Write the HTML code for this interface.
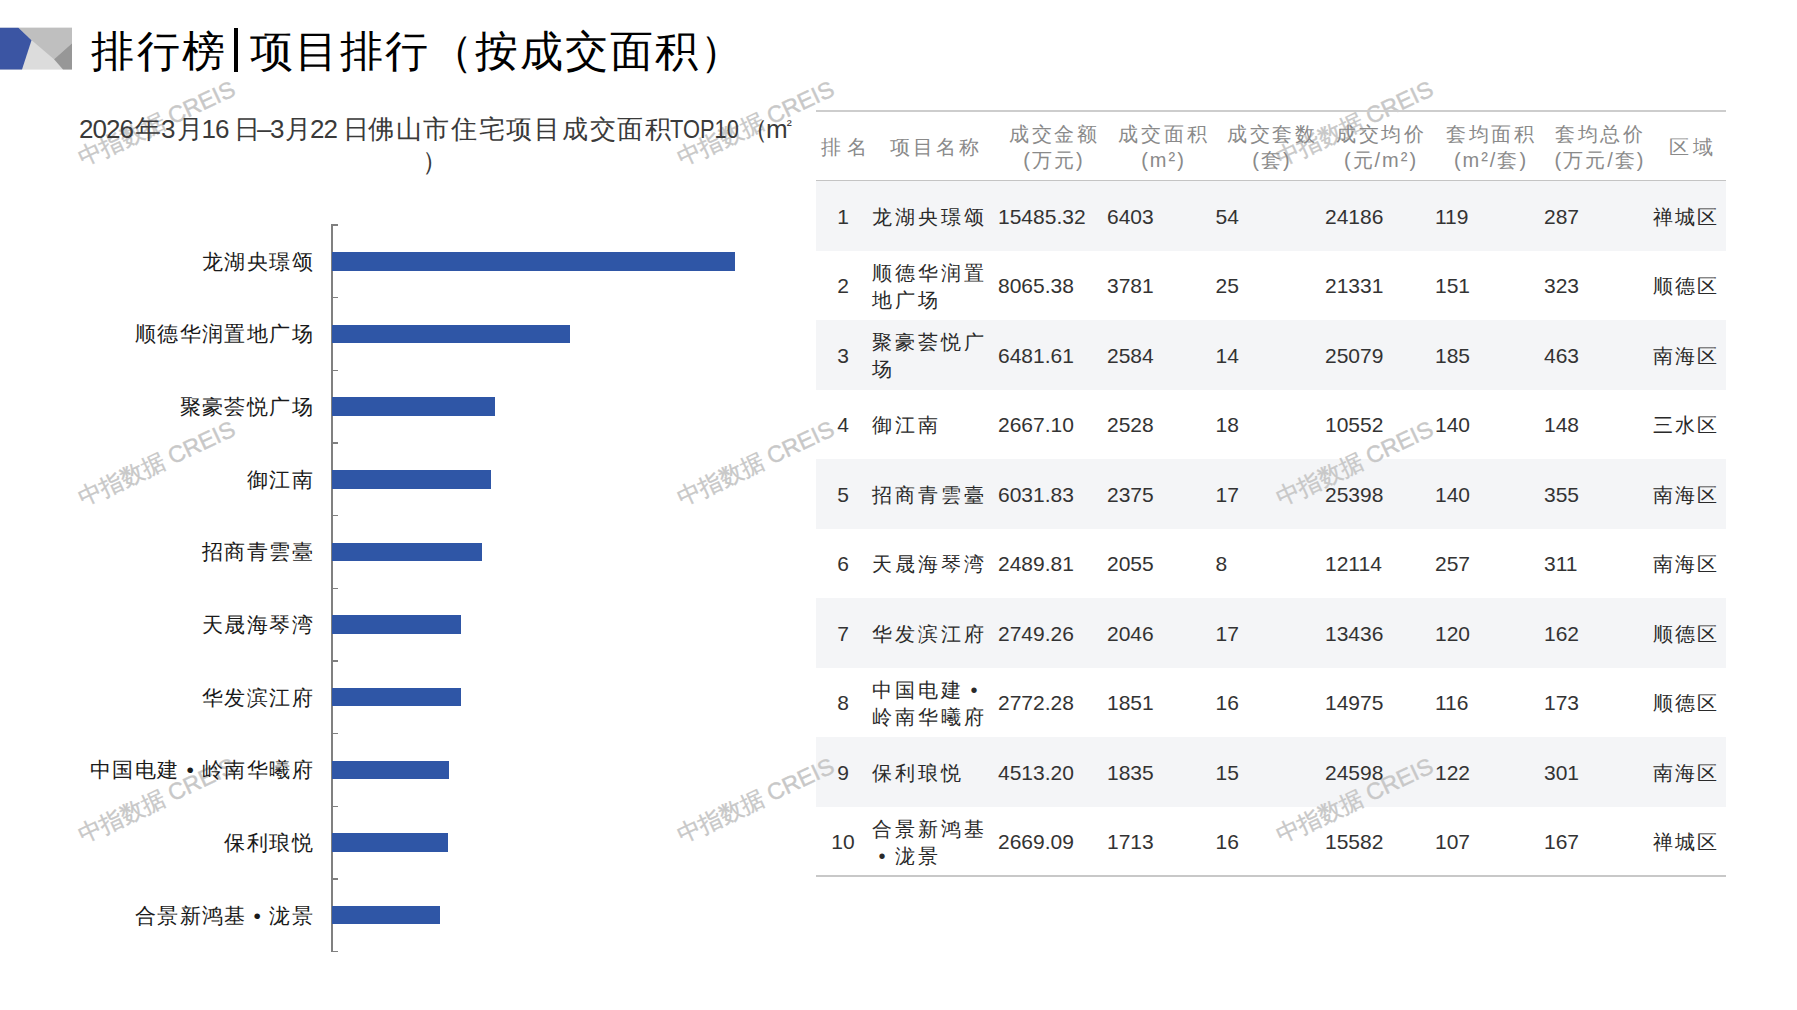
<!DOCTYPE html><html><head><meta charset="utf-8"><title>排行榜</title><style>
*{margin:0;padding:0;box-sizing:border-box}
html,body{width:1797px;height:1010px;overflow:hidden;background:#fff}
body{position:relative;font-family:"Liberation Sans",sans-serif;color:#222}
.a{position:absolute;white-space:nowrap;line-height:1;z-index:2}
.bg{z-index:0}
.t{font-size:43px;letter-spacing:2px;color:#000}
.ct{font-size:26px;color:#3a3a3a}
.cj{letter-spacing:1.7px}
.dg{letter-spacing:-1px}
.lb{font-size:21px;letter-spacing:1.4px;color:#1a1a1a;text-align:right}
.dot{display:inline-block;text-align:center}
.hd{font-size:20px;letter-spacing:2.7px;color:#8a8a8a;text-align:center}
.hd2{font-size:20px;letter-spacing:2px;color:#8a8a8a;text-align:center}
.cell{font-size:21px;color:#333}
.nm{font-size:20px;letter-spacing:3px;color:#2a2a2a}
.wm{z-index:1;font-size:23.3px;color:#c8c8c8;-webkit-text-stroke:0.35px #c8c8c8;transform-origin:0 100%;transform:rotate(-25deg)}
</style></head><body>
<svg class="a" style="left:0;top:0" width="80" height="80" viewBox="0 0 80 80">
<rect x="0" y="27.7" width="72" height="41.9" fill="#dcdcdc"/>
<polygon points="18.4,27.7 72,27.7 72,43.2 54,59.2 32,40.6" fill="#bfbfbf"/>
<polygon points="72,43.2 54,59.2 63,69.6 72,69.6" fill="#979797"/>
<polygon points="0,27.7 18.4,27.7 31.5,40.2 22,69.6 0,69.6" fill="#3b55a3"/>
</svg>
<div class="a t" style="left:91px;top:30px;letter-spacing:2.5px">排行榜</div>
<div class="a" style="left:233.5px;top:27.5px;width:4.5px;height:44px;background:#000"></div>
<div class="a t" style="left:250px;top:30px">项目排行（按成交面积）</div>
<div class="a ct dg" style="left:79px;top:116px">2026</div>
<div class="a ct " style="left:135px;top:116px">年</div>
<div class="a ct " style="left:161px;top:116px">3</div>
<div class="a ct " style="left:176.5px;top:116px">月</div>
<div class="a ct dg" style="left:201.5px;top:116px">16</div>
<div class="a ct " style="left:234px;top:116px">日</div>
<div class="a ct " style="left:257px;top:116px">–</div>
<div class="a ct " style="left:270px;top:116px">3</div>
<div class="a ct " style="left:285px;top:116px">月</div>
<div class="a ct dg" style="left:310px;top:116px">22</div>
<div class="a ct " style="left:343px;top:116px">日</div>
<div class="a ct cj" style="left:368px;top:116px">佛山市住宅项目成交面积</div>
<div class="a ct" style="left:670px;top:116px;transform-origin:0 0;transform:scaleX(0.84)">TOP10</div>
<div class="a ct" style="left:742px;top:116px">（</div>
<div class="a ct" style="left:766px;top:116px">m<span style="font-size:15px;vertical-align:8px;margin-left:-1px">²</span></div>
<div class="a ct" style="left:422px;top:147.5px">）</div>
<div class="a" style="left:330.5px;top:225px;width:2px;height:727px;background:#808080"></div>
<div class="a" style="left:331px;top:224.25px;width:6.5px;height:1.5px;background:#808080"></div>
<div class="a" style="left:331px;top:296.91px;width:6.5px;height:1.5px;background:#808080"></div>
<div class="a" style="left:331px;top:369.57px;width:6.5px;height:1.5px;background:#808080"></div>
<div class="a" style="left:331px;top:442.23px;width:6.5px;height:1.5px;background:#808080"></div>
<div class="a" style="left:331px;top:514.89px;width:6.5px;height:1.5px;background:#808080"></div>
<div class="a" style="left:331px;top:587.55px;width:6.5px;height:1.5px;background:#808080"></div>
<div class="a" style="left:331px;top:660.21px;width:6.5px;height:1.5px;background:#808080"></div>
<div class="a" style="left:331px;top:732.87px;width:6.5px;height:1.5px;background:#808080"></div>
<div class="a" style="left:331px;top:805.53px;width:6.5px;height:1.5px;background:#808080"></div>
<div class="a" style="left:331px;top:878.19px;width:6.5px;height:1.5px;background:#808080"></div>
<div class="a" style="left:331px;top:950.85px;width:6.5px;height:1.5px;background:#808080"></div>
<div class="a" style="left:332px;top:252.13px;width:403.0px;height:18.4px;background:#2f56a6"></div>
<div class="a lb" style="right:1483px;top:250.83px">龙湖央璟颂</div>
<div class="a" style="left:332px;top:324.79px;width:238.0px;height:18.4px;background:#2f56a6"></div>
<div class="a lb" style="right:1483px;top:323.49px">顺德华润置地广场</div>
<div class="a" style="left:332px;top:397.45px;width:162.6px;height:18.4px;background:#2f56a6"></div>
<div class="a lb" style="right:1483px;top:396.15px">聚豪荟悦广场</div>
<div class="a" style="left:332px;top:470.11px;width:159.1px;height:18.4px;background:#2f56a6"></div>
<div class="a lb" style="right:1483px;top:468.81px">御江南</div>
<div class="a" style="left:332px;top:542.77px;width:149.5px;height:18.4px;background:#2f56a6"></div>
<div class="a lb" style="right:1483px;top:541.47px">招商青雲臺</div>
<div class="a" style="left:332px;top:615.43px;width:129.3px;height:18.4px;background:#2f56a6"></div>
<div class="a lb" style="right:1483px;top:614.13px">天晟海琴湾</div>
<div class="a" style="left:332px;top:688.09px;width:128.8px;height:18.4px;background:#2f56a6"></div>
<div class="a lb" style="right:1483px;top:686.79px">华发滨江府</div>
<div class="a" style="left:332px;top:760.75px;width:116.5px;height:18.4px;background:#2f56a6"></div>
<div class="a lb" style="right:1483px;top:759.45px">中国电建<span class=dot style='width:22.4px'>•</span>岭南华曦府</div>
<div class="a" style="left:332px;top:833.41px;width:115.5px;height:18.4px;background:#2f56a6"></div>
<div class="a lb" style="right:1483px;top:832.11px">保利琅悦</div>
<div class="a" style="left:332px;top:906.07px;width:107.8px;height:18.4px;background:#2f56a6"></div>
<div class="a lb" style="right:1483px;top:904.77px">合景新鸿基<span class=dot style='width:22.4px'>•</span>泷景</div>
<div class="a" style="left:816px;top:110px;width:910px;height:2px;background:#cdcdcd"></div>
<div class="a bg" style="left:816px;top:181.0px;width:910px;height:69.5px;background:#f4f5f7"></div>
<div class="a bg" style="left:816px;top:320.0px;width:910px;height:69.5px;background:#f4f5f7"></div>
<div class="a bg" style="left:816px;top:459.0px;width:910px;height:69.5px;background:#f4f5f7"></div>
<div class="a bg" style="left:816px;top:598.0px;width:910px;height:69.5px;background:#f4f5f7"></div>
<div class="a bg" style="left:816px;top:737.0px;width:910px;height:69.5px;background:#f4f5f7"></div>
<div class="a" style="left:816px;top:179.5px;width:910px;height:1.5px;background:#c4c4c4"></div>
<div class="a" style="left:816px;top:875px;width:910px;height:1.5px;background:#c8c8c8"></div>
<div class="a hd" style="left:787.00px;width:120px;top:137px;letter-spacing:6px">排名</div>
<div class="a hd" style="left:875.85px;width:120px;top:137px;letter-spacing:2.7px">项目名称</div>
<div class="a hd" style="left:994.35px;width:120px;top:124px">成交金额</div>
<div class="a hd2" style="left:994.00px;width:120px;top:149.5px">(万元)</div>
<div class="a hd" style="left:1103.85px;width:120px;top:124px">成交面积</div>
<div class="a hd2" style="left:1103.50px;width:120px;top:149.5px">(m²)</div>
<div class="a hd" style="left:1212.35px;width:120px;top:124px">成交套数</div>
<div class="a hd2" style="left:1212.00px;width:120px;top:149.5px">(套)</div>
<div class="a hd" style="left:1321.35px;width:120px;top:124px">成交均价</div>
<div class="a hd2" style="left:1321.00px;width:120px;top:149.5px">(元/m²)</div>
<div class="a hd" style="left:1431.35px;width:120px;top:124px">套均面积</div>
<div class="a hd2" style="left:1431.00px;width:120px;top:149.5px">(m²/套)</div>
<div class="a hd" style="left:1540.35px;width:120px;top:124px">套均总价</div>
<div class="a hd2" style="left:1540.00px;width:120px;top:149.5px">(万元/套)</div>
<div class="a hd" style="left:1632.50px;width:120px;top:137px;letter-spacing:4px">区域</div>
<div class="a cell" style="left:813px;width:60px;text-align:center;top:205.75px">1</div>
<div class="a nm" style="left:872px;top:206.75px">龙湖央璟颂</div>
<div class="a cell" style="left:998px;top:205.75px">15485.32</div>
<div class="a cell" style="left:1107px;top:205.75px">6403</div>
<div class="a cell" style="left:1215.5px;top:205.75px">54</div>
<div class="a cell" style="left:1325px;top:205.75px">24186</div>
<div class="a cell" style="left:1435px;top:205.75px">119</div>
<div class="a cell" style="left:1544px;top:205.75px">287</div>
<div class="a nm" style="left:1652.5px;top:206.75px;letter-spacing:2px">禅城区</div>
<div class="a cell" style="left:813px;width:60px;text-align:center;top:275.25px">2</div>
<div class="a nm" style="left:872px;top:259.75px;line-height:27px;white-space:normal;width:130px">顺德华润置<br>地广场</div>
<div class="a cell" style="left:998px;top:275.25px">8065.38</div>
<div class="a cell" style="left:1107px;top:275.25px">3781</div>
<div class="a cell" style="left:1215.5px;top:275.25px">25</div>
<div class="a cell" style="left:1325px;top:275.25px">21331</div>
<div class="a cell" style="left:1435px;top:275.25px">151</div>
<div class="a cell" style="left:1544px;top:275.25px">323</div>
<div class="a nm" style="left:1652.5px;top:276.25px;letter-spacing:2px">顺德区</div>
<div class="a cell" style="left:813px;width:60px;text-align:center;top:344.75px">3</div>
<div class="a nm" style="left:872px;top:329.25px;line-height:27px;white-space:normal;width:130px">聚豪荟悦广<br>场</div>
<div class="a cell" style="left:998px;top:344.75px">6481.61</div>
<div class="a cell" style="left:1107px;top:344.75px">2584</div>
<div class="a cell" style="left:1215.5px;top:344.75px">14</div>
<div class="a cell" style="left:1325px;top:344.75px">25079</div>
<div class="a cell" style="left:1435px;top:344.75px">185</div>
<div class="a cell" style="left:1544px;top:344.75px">463</div>
<div class="a nm" style="left:1652.5px;top:345.75px;letter-spacing:2px">南海区</div>
<div class="a cell" style="left:813px;width:60px;text-align:center;top:414.25px">4</div>
<div class="a nm" style="left:872px;top:415.25px">御江南</div>
<div class="a cell" style="left:998px;top:414.25px">2667.10</div>
<div class="a cell" style="left:1107px;top:414.25px">2528</div>
<div class="a cell" style="left:1215.5px;top:414.25px">18</div>
<div class="a cell" style="left:1325px;top:414.25px">10552</div>
<div class="a cell" style="left:1435px;top:414.25px">140</div>
<div class="a cell" style="left:1544px;top:414.25px">148</div>
<div class="a nm" style="left:1652.5px;top:415.25px;letter-spacing:2px">三水区</div>
<div class="a cell" style="left:813px;width:60px;text-align:center;top:483.75px">5</div>
<div class="a nm" style="left:872px;top:484.75px">招商青雲臺</div>
<div class="a cell" style="left:998px;top:483.75px">6031.83</div>
<div class="a cell" style="left:1107px;top:483.75px">2375</div>
<div class="a cell" style="left:1215.5px;top:483.75px">17</div>
<div class="a cell" style="left:1325px;top:483.75px">25398</div>
<div class="a cell" style="left:1435px;top:483.75px">140</div>
<div class="a cell" style="left:1544px;top:483.75px">355</div>
<div class="a nm" style="left:1652.5px;top:484.75px;letter-spacing:2px">南海区</div>
<div class="a cell" style="left:813px;width:60px;text-align:center;top:553.25px">6</div>
<div class="a nm" style="left:872px;top:554.25px">天晟海琴湾</div>
<div class="a cell" style="left:998px;top:553.25px">2489.81</div>
<div class="a cell" style="left:1107px;top:553.25px">2055</div>
<div class="a cell" style="left:1215.5px;top:553.25px">8</div>
<div class="a cell" style="left:1325px;top:553.25px">12114</div>
<div class="a cell" style="left:1435px;top:553.25px">257</div>
<div class="a cell" style="left:1544px;top:553.25px">311</div>
<div class="a nm" style="left:1652.5px;top:554.25px;letter-spacing:2px">南海区</div>
<div class="a cell" style="left:813px;width:60px;text-align:center;top:622.75px">7</div>
<div class="a nm" style="left:872px;top:623.75px">华发滨江府</div>
<div class="a cell" style="left:998px;top:622.75px">2749.26</div>
<div class="a cell" style="left:1107px;top:622.75px">2046</div>
<div class="a cell" style="left:1215.5px;top:622.75px">17</div>
<div class="a cell" style="left:1325px;top:622.75px">13436</div>
<div class="a cell" style="left:1435px;top:622.75px">120</div>
<div class="a cell" style="left:1544px;top:622.75px">162</div>
<div class="a nm" style="left:1652.5px;top:623.75px;letter-spacing:2px">顺德区</div>
<div class="a cell" style="left:813px;width:60px;text-align:center;top:692.25px">8</div>
<div class="a nm" style="left:872px;top:676.75px;line-height:27px;white-space:normal;width:130px">中国电建<span class=dot style='width:23px'>•</span><br>岭南华曦府</div>
<div class="a cell" style="left:998px;top:692.25px">2772.28</div>
<div class="a cell" style="left:1107px;top:692.25px">1851</div>
<div class="a cell" style="left:1215.5px;top:692.25px">16</div>
<div class="a cell" style="left:1325px;top:692.25px">14975</div>
<div class="a cell" style="left:1435px;top:692.25px">116</div>
<div class="a cell" style="left:1544px;top:692.25px">173</div>
<div class="a nm" style="left:1652.5px;top:693.25px;letter-spacing:2px">顺德区</div>
<div class="a cell" style="left:813px;width:60px;text-align:center;top:761.75px">9</div>
<div class="a nm" style="left:872px;top:762.75px">保利琅悦</div>
<div class="a cell" style="left:998px;top:761.75px">4513.20</div>
<div class="a cell" style="left:1107px;top:761.75px">1835</div>
<div class="a cell" style="left:1215.5px;top:761.75px">15</div>
<div class="a cell" style="left:1325px;top:761.75px">24598</div>
<div class="a cell" style="left:1435px;top:761.75px">122</div>
<div class="a cell" style="left:1544px;top:761.75px">301</div>
<div class="a nm" style="left:1652.5px;top:762.75px;letter-spacing:2px">南海区</div>
<div class="a cell" style="left:813px;width:60px;text-align:center;top:831.25px">10</div>
<div class="a nm" style="left:872px;top:815.75px;line-height:27px;white-space:normal;width:130px">合景新鸿基<br><span class=dot style='width:23px'>•</span>泷景</div>
<div class="a cell" style="left:998px;top:831.25px">2669.09</div>
<div class="a cell" style="left:1107px;top:831.25px">1713</div>
<div class="a cell" style="left:1215.5px;top:831.25px">16</div>
<div class="a cell" style="left:1325px;top:831.25px">15582</div>
<div class="a cell" style="left:1435px;top:831.25px">107</div>
<div class="a cell" style="left:1544px;top:831.25px">167</div>
<div class="a nm" style="left:1652.5px;top:832.25px;letter-spacing:2px">禅城区</div>
<div class="a wm" style="left:85px;top:147px">中指数据 CREIS</div>
<div class="a wm" style="left:85px;top:487px">中指数据 CREIS</div>
<div class="a wm" style="left:85px;top:824px">中指数据 CREIS</div>
<div class="a wm" style="left:684px;top:147px">中指数据 CREIS</div>
<div class="a wm" style="left:684px;top:487px">中指数据 CREIS</div>
<div class="a wm" style="left:684px;top:824px">中指数据 CREIS</div>
<div class="a wm" style="left:1283px;top:147px">中指数据 CREIS</div>
<div class="a wm" style="left:1283px;top:487px">中指数据 CREIS</div>
<div class="a wm" style="left:1283px;top:824px">中指数据 CREIS</div>
</body></html>
